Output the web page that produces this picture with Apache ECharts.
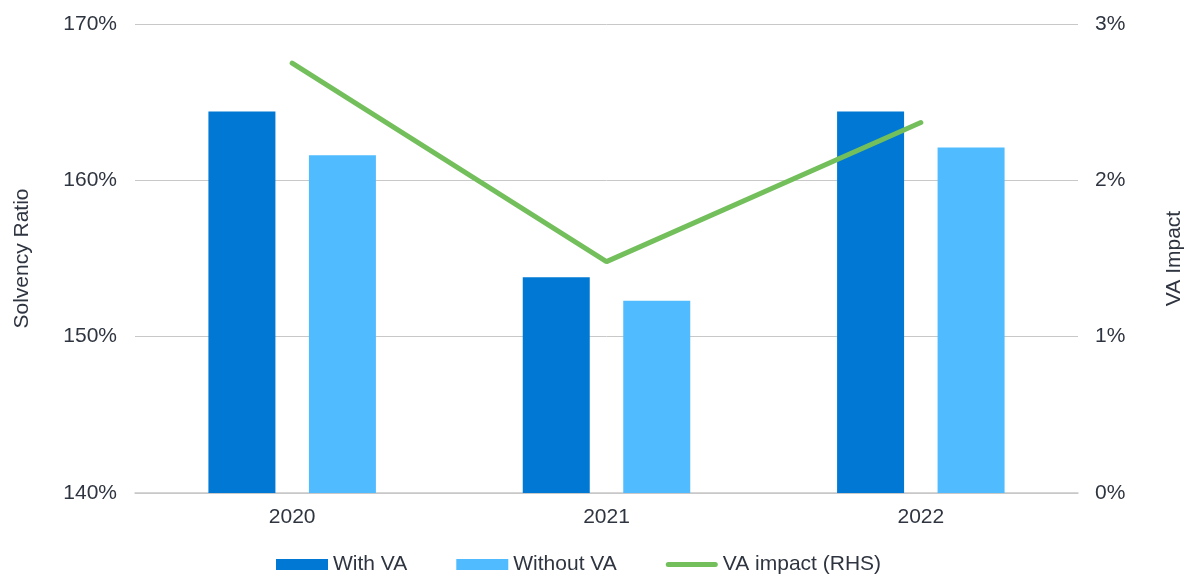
<!DOCTYPE html>
<html>
<head>
<meta charset="utf-8">
<script src="https://cdn.jsdelivr.net/npm/echarts@6/dist/echarts.min.js"></script>
<style>
  html, body { margin: 0; padding: 0; background: #fff; }
  #main { width: 1186px; height: 575px; }
</style>
</head>
<body>
<div id="main"></div>
<script>
// data
var years = ['2020', '2021', '2022'];
var withVA = [164.4, 153.8, 164.4];
var withoutVA = [161.6, 152.3, 162.1];
var vaImpact = [2.75, 1.48, 2.37];

var textColor = '#2f3540';
var font = 'Liberation Sans, Arial, sans-serif';
// rounded bar used as legend icon for the line (bbox padded to 52x11)
var lineIcon = 'path://M0,0M52,11M2.5,3L49.5,3Q52,3 52,5.5Q52,8 49.5,8L2.5,8Q0,8 0,5.5Q0,3 2.5,3Z';

var myChart = echarts.init(document.getElementById('main'));
var option = {
    animation: false,
    textStyle: { fontFamily: font },
    grid: { left: 135, right: 108, top: 24, bottom: 82, outerBoundsMode: 'none', containLabel: false },
    legend: {
        top: 554,
        left: 276,
        padding: 0,
        itemWidth: 52,
        itemHeight: 11,
        itemGap: 49,
        textStyle: { fontSize: 21, color: textColor, fontFamily: font },
        data: [
            { name: 'With VA', icon: 'rect' },
            { name: 'Without VA', icon: 'rect' },
            { name: 'VA impact (RHS)', icon: lineIcon, itemStyle: { color: '#73bf5b', borderWidth: 0 } }
        ]
    },
    xAxis: {
        type: 'category',
        data: years,
        axisLine: { lineStyle: { color: '#c8c8c8', width: 1.5 } },
        axisTick: { show: false },
        axisLabel: { fontSize: 21, color: textColor, margin: 14 }
    },
    yAxis: [{
        type: 'value',
        min: 140,
        max: 170,
        interval: 10,
        name: 'Solvency Ratio',
        nameLocation: 'middle',
        nameGap: 102,
        nameTextStyle: { fontSize: 21, color: textColor },
        axisLine: { show: false },
        axisTick: { show: false },
        axisLabel: { fontSize: 21, color: textColor, margin: 18, formatter: '{value}%', padding: [3, 0, 0, 0] },
        splitLine: { lineStyle: { color: '#c8c8c8', width: 1 } }
    }, {
        type: 'value',
        min: 0,
        max: 3,
        interval: 1,
        name: 'VA Impact',
        nameLocation: 'middle',
        nameGap: 86,
        nameRotate: 90,
        nameTextStyle: { fontSize: 21, color: textColor },
        axisLine: { show: false },
        axisTick: { show: false },
        axisLabel: { fontSize: 21, color: textColor, margin: 17, formatter: '{value}%', padding: [3, 0, 0, 0] },
        splitLine: { show: false }
    }],
    series: [{
        name: 'With VA',
        type: 'bar',
        data: withVA,
        barWidth: 67,
        barGap: '50%',
        itemStyle: { color: '#0078d4' }
    }, {
        name: 'Without VA',
        type: 'bar',
        data: withoutVA,
        barWidth: 67,
        itemStyle: { color: '#50bcff' }
    }, {
        name: 'VA impact (RHS)',
        type: 'line',
        yAxisIndex: 1,
        data: vaImpact,
        symbol: 'none',
        lineStyle: { color: '#73bf5b', width: 5, cap: 'round' },
        itemStyle: { color: '#73bf5b' }
    }]
};
myChart.setOption(option);
</script>
</body>
</html>
